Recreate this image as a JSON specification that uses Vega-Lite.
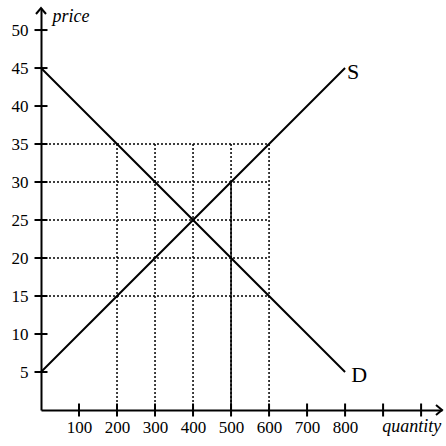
{
  "$schema": "https://vega.github.io/schema/vega-lite/v6.json",
  "width": 401,
  "height": 402,
  "autosize": {"type": "none"},
  "padding": {"left": 41, "top": 8, "right": 4, "bottom": 36},
  "background": "white",
  "config": {"view": {"stroke": null}},
  "datasets": {
    "curves": [
      {"curve": "S", "q": 0, "p": 5},
      {"curve": "S", "q": 800, "p": 45},
      {"curve": "D", "q": 0, "p": 45},
      {"curve": "D", "q": 800, "p": 5}
    ],
    "hguides": [
      {"q": 0, "q2": 600, "p": 15},
      {"q": 0, "q2": 600, "p": 20},
      {"q": 0, "q2": 600, "p": 25},
      {"q": 0, "q2": 600, "p": 30},
      {"q": 0, "q2": 600, "p": 35}
    ],
    "vguides": [
      {"q": 200, "p": 0, "p2": 35},
      {"q": 300, "p": 0, "p2": 35},
      {"q": 400, "p": 0, "p2": 35},
      {"q": 500, "p": 0, "p2": 35},
      {"q": 600, "p": 0, "p2": 35}
    ],
    "solid": [{"q": 500, "p": 0, "p2": 30}],
    "xticks": [
      {"q": 100, "p": 0}, {"q": 200, "p": 0}, {"q": 300, "p": 0}, {"q": 400, "p": 0}, {"q": 500, "p": 0},
      {"q": 600, "p": 0}, {"q": 700, "p": 0}, {"q": 800, "p": 0}, {"q": 900, "p": 0}, {"q": 1000, "p": 0}
    ],
    "yticks": [
      {"q": 0, "p": 5}, {"q": 0, "p": 10}, {"q": 0, "p": 15}, {"q": 0, "p": 20}, {"q": 0, "p": 25},
      {"q": 0, "p": 30}, {"q": 0, "p": 35}, {"q": 0, "p": 40}, {"q": 0, "p": 45}, {"q": 0, "p": 50}
    ],
    "curvelabels": [
      {"q": 805, "p": 43.6, "t": "S"},
      {"q": 816, "p": 3.7, "t": "D"}
    ],
    "pricelabel": [{"q": 30, "p": 51.1, "t": "price"}],
    "quantitylabel": [{"q": 1053, "p": -2.9, "t": "quantity"}],
    "uparrow": [{"q": 0, "p": 52.9}],
    "rightarrow": [{"q": 1055, "p": 0}]
  },
  "encoding": {
    "x": {
      "field": "q", "type": "quantitative", "title": null,
      "scale": {"domain": [0, 1055], "nice": false, "zero": false},
      "axis": {
        "values": [100, 200, 300, 400, 500, 600, 700, 800],
        "ticks": false, "grid": false,
        "domainColor": "black", "domainWidth": 2,
        "labelFont": "Liberation Serif", "labelFontSize": 17, "labelColor": "black",
        "labelPadding": 9, "labelFlush": false, "labelOverlap": false
      }
    },
    "y": {
      "field": "p", "type": "quantitative", "title": null,
      "scale": {"domain": [0, 52.9], "nice": false, "zero": false},
      "axis": {
        "values": [5, 10, 15, 20, 25, 30, 35, 40, 45, 50],
        "ticks": false, "grid": false,
        "domainColor": "black", "domainWidth": 2,
        "labelFont": "Liberation Serif", "labelFontSize": 17, "labelColor": "black",
        "labelPadding": 13, "labelFlush": false, "labelOverlap": false
      }
    }
  },
  "layer": [
    {
      "data": {"name": "hguides"},
      "mark": {"type": "rule", "color": "black", "strokeWidth": 1.5, "strokeDash": [2, 2]},
      "encoding": {"x2": {"field": "q2"}}
    },
    {
      "data": {"name": "vguides"},
      "mark": {"type": "rule", "color": "black", "strokeWidth": 1.5, "strokeDash": [2, 2]},
      "encoding": {"y2": {"field": "p2"}}
    },
    {
      "data": {"name": "solid"},
      "mark": {"type": "rule", "color": "black", "strokeWidth": 1.5},
      "encoding": {"y2": {"field": "p2"}}
    },
    {
      "data": {"name": "curves"},
      "mark": {"type": "line", "color": "black", "strokeWidth": 2},
      "encoding": {"detail": {"field": "curve"}}
    },
    {
      "data": {"name": "xticks"},
      "mark": {"type": "tick", "orient": "vertical", "color": "black", "size": 13, "thickness": 2, "opacity": 1}
    },
    {
      "data": {"name": "yticks"},
      "mark": {"type": "tick", "orient": "horizontal", "color": "black", "size": 13, "thickness": 2, "opacity": 1}
    },
    {
      "data": {"name": "uparrow"},
      "mark": {"type": "point", "shape": "M-1,1.2L0,0L1,1.2", "size": 100, "filled": false, "stroke": "black", "strokeWidth": 2, "opacity": 1, "clip": false}
    },
    {
      "data": {"name": "rightarrow"},
      "mark": {"type": "point", "shape": "M-1.2,-1L0,0L-1.2,1", "size": 100, "filled": false, "stroke": "black", "strokeWidth": 2, "opacity": 1, "clip": false}
    },
    {
      "data": {"name": "curvelabels"},
      "mark": {"type": "text", "font": "Liberation Serif", "fontSize": 22, "align": "left", "baseline": "alphabetic", "color": "black", "clip": false},
      "encoding": {"text": {"field": "t"}}
    },
    {
      "data": {"name": "pricelabel"},
      "mark": {"type": "text", "font": "Liberation Serif", "fontSize": 18, "fontStyle": "italic", "align": "left", "baseline": "alphabetic", "color": "black", "clip": false},
      "encoding": {"text": {"field": "t"}}
    },
    {
      "data": {"name": "quantitylabel"},
      "mark": {"type": "text", "font": "Liberation Serif", "fontSize": 18, "fontStyle": "italic", "align": "right", "baseline": "alphabetic", "color": "black", "clip": false},
      "encoding": {"text": {"field": "t"}}
    }
  ]
}
